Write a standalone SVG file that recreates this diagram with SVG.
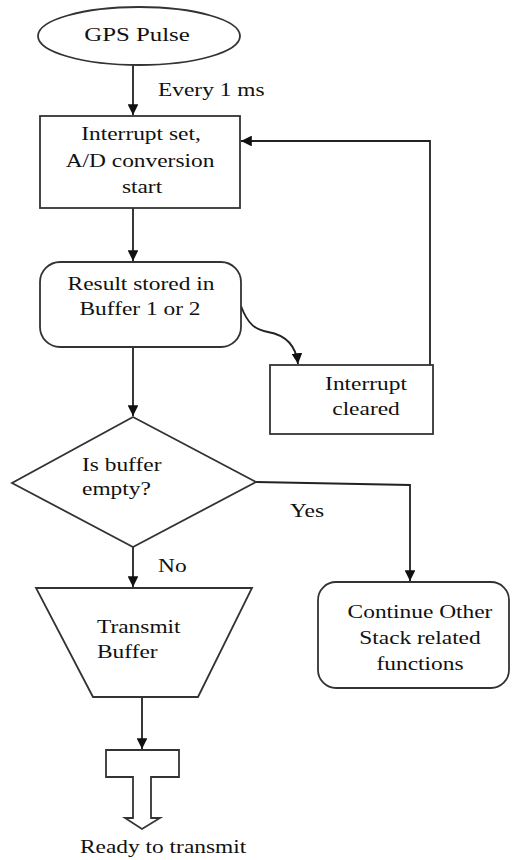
<svg xmlns="http://www.w3.org/2000/svg" width="512" height="860" viewBox="0 0 512 860">
  <style>
    .shape { fill: #fff; stroke: #333; stroke-width: 1.8; }
    .wire { fill: none; stroke: #222; stroke-width: 1.8; }
    .lbl { font-family: 'Liberation Serif', 'Times New Roman', serif; font-size: 18px; fill: #111; }
    .mid { text-anchor: middle; }
  </style>
  <defs>
    <marker id="arrow" viewBox="0 0 10 10" refX="10" refY="5" markerWidth="6" markerHeight="6" orient="auto" markerUnits="strokeWidth">
      <path d="M0,0 L10,5 L0,10 Z" fill="#111"/>
    </marker>
  </defs>
  <rect width="512" height="860" fill="#fff"/>

  <!-- connectors -->
  <g id="connectors">
    <line class="wire" x1="133" y1="65" x2="133" y2="115" marker-end="url(#arrow)"/>
    <line class="wire" x1="133" y1="208" x2="133" y2="261" marker-end="url(#arrow)"/>
    <path class="wire" d="M241,306 C248,325 256,330 268,332 C285,335 296,345 298,364" marker-end="url(#arrow)"/>
    <polyline class="wire" points="430,365 430,141 241,141" marker-end="url(#arrow)"/>
    <line class="wire" x1="133" y1="347" x2="133" y2="416" marker-end="url(#arrow)"/>
    <polyline class="wire" points="256,482 410,485 410,581" marker-end="url(#arrow)"/>
    <line class="wire" x1="133" y1="547" x2="133" y2="587" marker-end="url(#arrow)"/>
    <line class="wire" x1="142" y1="697" x2="142" y2="749" marker-end="url(#arrow)"/>
    <text class="lbl" transform="translate(158,96) scale(1.3 1)">Every 1 ms</text>
    <text class="lbl" transform="translate(290,517) scale(1.3 1)">Yes</text>
    <text class="lbl" transform="translate(158,572) scale(1.3 1)">No</text>
  </g>

  <g id="gps-pulse">
    <ellipse class="shape" cx="139" cy="36" rx="101" ry="29"/>
    <text class="lbl mid" transform="translate(137,41) scale(1.38 1)">GPS Pulse</text>
  </g>

  <g id="interrupt-set">
    <rect class="shape" x="40" y="116" width="200" height="92"/>
    <text class="lbl mid" transform="translate(141,140) scale(1.3 1)">Interrupt set,</text>
    <text class="lbl mid" transform="translate(140,167) scale(1.3 1)">A/D conversion</text>
    <text class="lbl mid" transform="translate(142,193) scale(1.3 1)">start</text>
  </g>

  <g id="result-stored">
    <rect class="shape" x="40" y="262" width="201" height="85" rx="20" ry="20"/>
    <text class="lbl mid" transform="translate(141,290) scale(1.3 1)">Result stored in</text>
    <text class="lbl mid" transform="translate(140,315) scale(1.3 1)">Buffer 1 or 2</text>
  </g>

  <g id="interrupt-cleared">
    <rect class="shape" x="270" y="365" width="163" height="69"/>
    <text class="lbl mid" transform="translate(366,390) scale(1.3 1)">Interrupt</text>
    <text class="lbl mid" transform="translate(366,415) scale(1.3 1)">cleared</text>
  </g>

  <g id="buffer-empty">
    <polygon class="shape" points="133,417 256,482 133,547 12,483"/>
    <text class="lbl" transform="translate(82,471) scale(1.3 1)">Is buffer</text>
    <text class="lbl" transform="translate(82,495) scale(1.3 1)">empty?</text>
  </g>

  <g id="continue-other">
    <rect class="shape" x="318" y="582" width="191" height="106" rx="18" ry="18"/>
    <text class="lbl mid" transform="translate(420,618) scale(1.3 1)">Continue Other</text>
    <text class="lbl mid" transform="translate(420,644) scale(1.3 1)">Stack related</text>
    <text class="lbl mid" transform="translate(420,670) scale(1.3 1)">functions</text>
  </g>

  <g id="transmit-buffer">
    <polygon class="shape" points="36,588 252,588 198,697 93,697"/>
    <text class="lbl" transform="translate(97,633) scale(1.3 1)">Transmit</text>
    <text class="lbl" transform="translate(97,658) scale(1.3 1)">Buffer</text>
  </g>

  <g id="ready-to-transmit">
    <path class="shape" d="M106,750 H179 V777 H151 V818 H160 L142,829 L125,818 H133 V777 H106 Z" stroke="#444"/>
    <text class="lbl" transform="translate(80,853) scale(1.3 1)">Ready to transmit</text>
  </g>
</svg>
